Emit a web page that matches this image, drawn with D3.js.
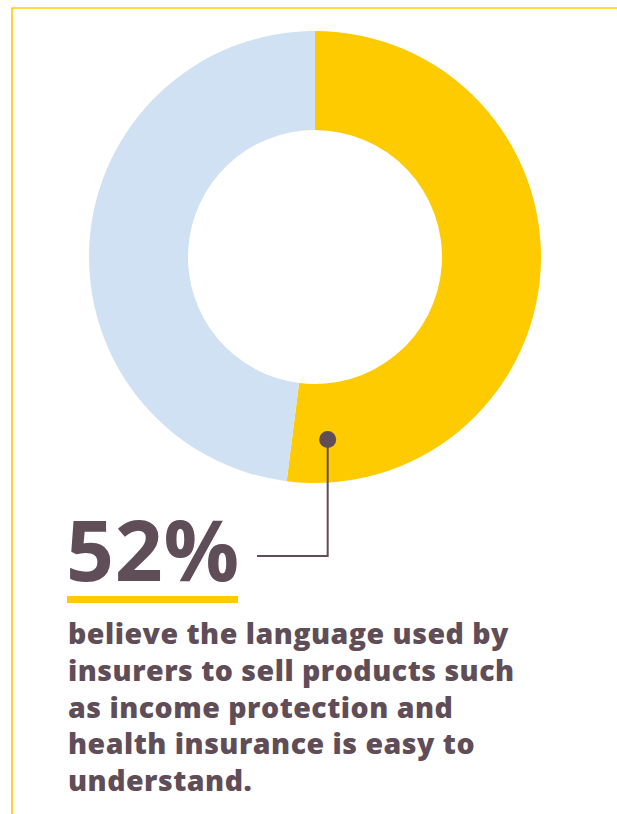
<!DOCTYPE html>
<html>
<head>
<meta charset="utf-8">
<script src="https://cdn.jsdelivr.net/npm/d3@7"></script>
<style>
  html, body { margin: 0; padding: 0; background: #fff; }
  svg { display: block; }
</style>
</head>
<body>
<svg id="chart" width="617" height="814"></svg>
<script>
// Survey result: share who find insurers' product language easy to understand
const categories = ["Agree", "Other"];
const values = [52, 48];
const colors = ["#fecb00", "#cfe1f2"];
const headline = "52%";
const bodyLines = [
  "believe the language used by",
  "insurers to sell products such",
  "as income protection and",
  "health insurance is easy to",
  "understand."
];

const ink = "#5f4d57";
const gold = "#fecb00";
const svg = d3.select("#chart");

// Frame: thin gold rule along the top and left edge
svg.append("path")
  .attr("d", "M12,814 V8 H617")
  .attr("fill", "none")
  .attr("stroke", gold)
  .attr("stroke-width", 1.6);

// Donut
const cx = 315, cy = 257, rOuter = 226, rInner = 127;
const pie = d3.pie().sort(null).value(d => d.value);
const arcs = pie(categories.map((c, i) => ({ name: c, value: values[i] })));
const arc = d3.arc().innerRadius(rInner).outerRadius(rOuter);

const g = svg.append("g").attr("transform", `translate(${cx},${cy})`);
g.selectAll("path")
  .data(arcs)
  .join("path")
  .attr("d", arc)
  .attr("fill", (d, i) => colors[i]);

// Leader from the highlighted slice down to the headline figure
const dotAngle = arcs[0].endAngle - 0.195;
const dotR = 183;
const dx = cx + dotR * Math.sin(dotAngle);
const dy = cy - dotR * Math.cos(dotAngle);
const elbowY = 556, leaderEndX = 257;

svg.append("path")
  .attr("d", `M${dx},${dy} V${elbowY} H${leaderEndX}`)
  .attr("fill", "none")
  .attr("stroke", ink)
  .attr("stroke-width", 2);
svg.append("circle")
  .attr("cx", dx).attr("cy", dy).attr("r", 8.5)
  .attr("fill", ink);

// Headline figure
const left = 68;
const big = svg.append("text")
  .attr("x", left - 2)
  .attr("y", 581)
  .attr("font-family", "'Open Sans', sans-serif")
  .attr("font-weight", 700)
  .attr("font-size", 84)
  .attr("fill", ink)
  .text(headline);
const bigW = big.node().getComputedTextLength();
const bigTarget = 174;
big.attr("letter-spacing", (bigTarget - bigW) / (headline.length));

// Gold underline
svg.append("rect")
  .attr("x", 67).attr("y", 596)
  .attr("width", 171).attr("height", 7)
  .attr("fill", gold);

// Body copy
const body = svg.append("text")
  .attr("font-family", "'Open Sans', sans-serif")
  .attr("font-weight", 800)
  .attr("font-size", 28.5)
  .attr("fill", ink);
const lineTspans = body.selectAll("tspan")
  .data(bodyLines)
  .join("tspan")
  .attr("x", left)
  .attr("y", (d, i) => 644 + i * 36.8)
  .text(d => d);

// Spread letters so the first line spans the column width
const firstW = lineTspans.nodes()[0].getComputedTextLength();
const targetW = 441;
body.attr("letter-spacing", (targetW - firstW) / bodyLines[0].length);
</script>
</body>
</html>
